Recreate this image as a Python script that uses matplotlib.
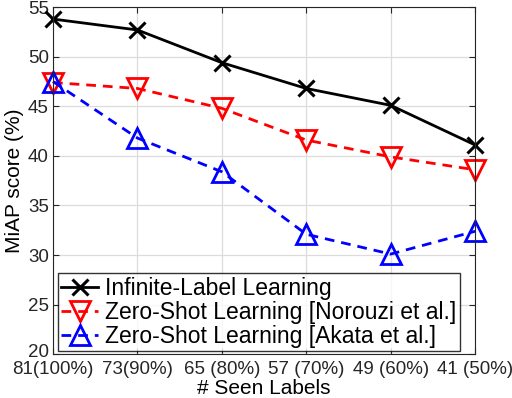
import matplotlib

matplotlib.use("Agg")
import matplotlib.pyplot as plt
import matplotlib.transforms as mtransforms
import numpy as np

plt.rcParams["font.family"] = ["Liberation Sans", "DejaVu Sans"]

tick_labels = ["81(100%)", "73(90%)", "65 (80%)", "57 (70%)", "49 (60%)", "41 (50%)"]
infinite = [53.8, 52.7, 49.4, 46.8, 45.1, 41.1]
norouzi = [47.4, 46.8, 44.8, 41.6, 39.9, 38.6]
akata = [47.5, 41.8, 38.4, 32.1, 30.1, 32.4]

x = np.arange(len(tick_labels))

fig = plt.figure(figsize=(5.12, 3.98), dpi=100)
ax = fig.add_axes([0.1035, 0.11, 0.8245, 0.872])

ax.plot(x, infinite, color="black", lw=2.0, marker="x", ms=12, mew=2.2,
        clip_on=False, label="Infinite-Label Learning")
ax.plot(x, norouzi, color="red", lw=2.0, ls=(0, (3.5, 2.5)), marker="v", ms=14,
        mew=2.0, mfc="none", clip_on=False,
        label="Zero-Shot Learning [Norouzi et al.]")
ax.plot(x, akata, color="blue", lw=2.0, ls=(0, (3.5, 2.5)), marker="^", ms=14,
        mew=2.0, mfc="none", clip_on=False,
        label="Zero-Shot Learning [Akata et al.]")

ax.set_xlim(0, len(x) - 1)
ax.set_ylim(20, 55)
ax.set_xticks(x)
ax.set_xticklabels(tick_labels)
ax.set_yticks(np.arange(20, 56, 5))
ax.tick_params(direction="in", top=True, right=True, labelsize=13.5,
               colors="#262626", length=4)
ax.tick_params(axis="x", pad=5)
ax.tick_params(axis="y", pad=3)
# nudge the lowest y label up so it clears the first x label
lab20 = ax.yaxis.get_major_ticks()[0].label1
lab20.set_transform(lab20.get_transform()
                    + mtransforms.ScaledTranslation(0, 3 / 72, fig.dpi_scale_trans))
ax.grid(True, color="#dcdcdc", lw=0.9)
ax.set_axisbelow(True)
for s in ax.spines.values():
    s.set_color("#262626")
ax.set_xlabel("# Seen Labels", fontsize=15, labelpad=0.5)
ax.set_ylabel("MiAP score (%)", fontsize=15, labelpad=3)

leg = ax.legend(loc="lower left", bbox_to_anchor=(0.012, 0.008), fontsize=16.5,
                frameon=True, fancybox=False, edgecolor="black",
                handlelength=1.6, handletextpad=0.3, borderpad=0.15,
                labelspacing=0.05, borderaxespad=0)
leg.get_frame().set_linewidth(1.0)
leg.set_zorder(5)

fig.savefig("out.png", dpi=100)
